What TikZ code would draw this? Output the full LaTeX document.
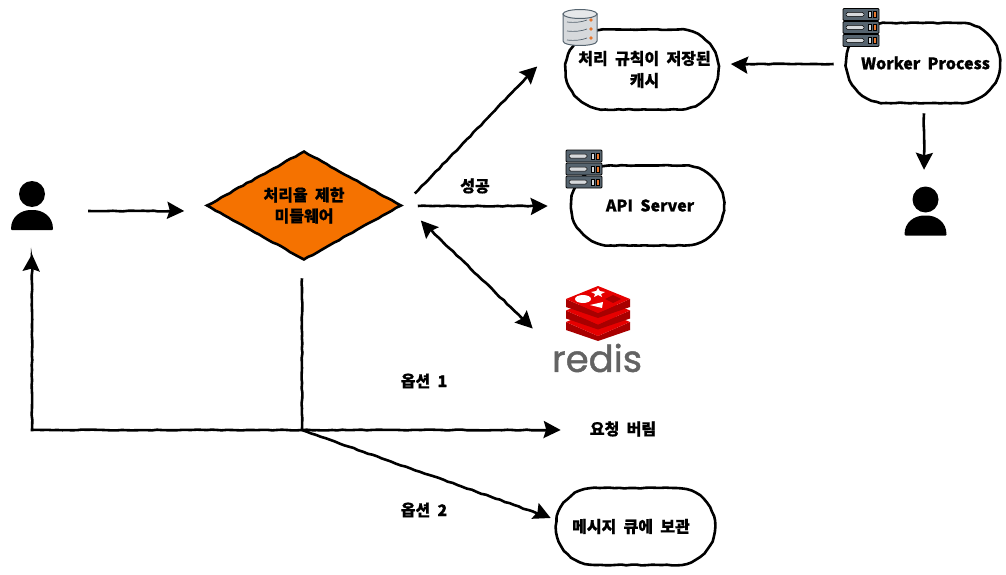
\documentclass[tikz,border=0pt]{standalone}
\usepackage{fontspec}
\setmainfont{Noto Sans CJK KR}[WordSpace=2,BoldFeatures={FakeBold=0.7}]
\newfontfamily\redisfont{Poppins}[FakeBold=1.2]
\usetikzlibrary{arrows.meta,shapes.geometric,shapes.misc,decorations.pathmorphing}
\definecolor{limiterfill}{HTML}{F57200}
\definecolor{serverfill}{HTML}{56646F}
\definecolor{dbfill}{HTML}{D6D9DC}
\definecolor{dotorange}{HTML}{E8772E}
\definecolor{redistop}{HTML}{E60000}
\definecolor{redisside}{HTML}{A80000}
\definecolor{redisgray}{HTML}{636363}
\tikzset{
  rough/.style={decorate,decoration={random steps,segment length=5pt,amplitude=0.45pt}},
  link/.style={draw,line width=2.6pt,rough,-{Stealth[length=17pt,width=17pt,inset=2.5pt]}},
  plainlink/.style={draw,line width=2.6pt,rough},
  roundbox/.style={rounded rectangle,draw,line width=2.6pt,rough,inner sep=0pt,
    minimum width=#1,minimum height=80pt,align=center,font=\bfseries\fontsize{16}{22}\selectfont},
  label/.style={inner sep=0pt,align=center,font=\bfseries\fontsize{16}{22}\selectfont},
  usericon/.style={inner sep=0pt,minimum width=42pt,minimum height=49pt},
  pics/person/.style={code={
    \fill (0,-11.5) circle (13pt);
    \fill[rounded corners=1pt] (-21,24.5) .. controls (-21,11) and (-11,4.5) .. (0,4.5)
      .. controls (11,4.5) and (21,11) .. (21,24.5) -- cycle;
  }},
  pics/serverstack/.style={code={
    \foreach \y in {-13,0,13} {
      \draw[fill=serverfill,line width=0.8pt,rounded corners=1pt] (-18,\y-6) rectangle (18,\y+6);
      \draw[fill=dbfill,line width=0.5pt,rounded corners=1.5pt] (-15,\y-2) rectangle (3,\y+2);
      \draw[fill=dbfill,line width=0.5pt] (7,\y-3) rectangle (10,\y+3);
      \draw[fill=dotorange,line width=0.5pt] (12,\y-3) rectangle (15,\y+3);
    }
  }},
  pics/dbstack/.style={code={
    \draw[fill=dbfill,draw=serverfill,line width=1pt] (-17,-13) -- (-17,14)
      .. controls (-17,20) and (17,20) .. (17,14) -- (17,-13) -- cycle;
    \draw[fill=dbfill!60!white,draw=serverfill,line width=1pt] (0,-13) ellipse (17pt and 4.5pt);
    \foreach \y in {-7,2,11} {
      \draw[serverfill,line width=0.7pt] (-13,\y+2) .. controls (-5,\y+3) and (2,\y+2) .. (7,\y);
      \fill[dotorange] (11,\y) circle (1.8pt);
    }
  }},
  pics/redisstack/.style={code={
    \foreach \d in {23,11.5,0} {
      \fill[redisside] (-32,\d-14) -- (0,\d) -- (32,\d-14) -- (32,\d-6) -- (0,\d+5) -- (-32,\d-6) -- cycle;
      \fill[redistop] (0,\d-27) -- (32,\d-14) -- (0,\d) -- (-32,\d-14) -- cycle;
    }
    \fill[white] (-15,-14) ellipse (8pt and 4pt);
    \fill[redisside] (15,-14) -- (23,-14) -- (15,-10) -- (7,-14) -- (15,-18) -- (23,-14) -- cycle;
    \fill[white] (-8,-8) -- (5,-11) -- (4,-5) -- cycle;
    \fill[white] (0,-25) -- (1.8,-22) -- (7,-21) -- (3,-19) -- (4,-16) -- (0,-18)
      -- (-4,-16) -- (-3,-19) -- (-7,-21) -- (-1.8,-22) -- cycle;
  }},
}
\pgfmathsetseed{7}
\begin{document}
\begin{tikzpicture}[x=1pt,y=-1pt]
  \useasboundingbox (0,0) rectangle (1006,575);
  % users
  \node[usericon] (user) at (32,205.5) {};
  \node[usericon] (client) at (925.5,211) {};
  \pic at (user) {person};
  \pic at (client) {person};
  % middleware and boxes
  \node[diamond,draw,line width=2.6pt,rough,fill=limiterfill,inner sep=0pt,aspect=1.79,
    minimum width=195pt,minimum height=109pt,align=center,
    font=\bfseries\fontsize{16}{21}\selectfont] (limiter) at (304,205.5) {처리율 제한\\미들웨어};
  \node[roundbox=153pt] (cache) at (642,69.5) {\hspace*{5pt}처리 규칙이 저장된\\\hspace*{5pt}캐시};
  \node[roundbox=154pt] (worker) at (923,63) {\hspace*{5pt}Worker Process};
  \node[roundbox=153pt] (api) at (647.5,205.5) {\hspace*{5pt}API Server};
  \node[roundbox=159pt,minimum height=77pt] (queue) at (635.5,526.5) {\hspace*{-9pt}메시지 큐에 보관};
  % labels
  \node[label] (okay) at (475,186) {성공};
  \node[label] (optone) at (424,381) {옵션 1};
  \node[label] (opttwo) at (424,510) {옵션 2};
  \node[label] (drop) at (623,429) {요청 버림};
  % icons
  \pic at (580,27) {dbstack};
  \pic at (861,27.5) {serverstack};
  \pic at (584,169) {serverstack};
  \pic at (598,313) {redisstack};
  \node[inner sep=0pt,text=redisgray,font=\redisfont\fontsize{37}{37}\selectfont] (redis) at (597,358) {redis};
  \coordinate (junction) at (302,430);
  % connectors
  \begin{scope}
    \draw[link] ([shift={(35,5.5)}]user.east) -- ([shift={(-21,5.5)}]limiter.west);
    \draw[link] ([shift={(12,-12)}]limiter.east) -- ([shift={(-27,-3)}]cache.west);
    \draw[link] ([shift={(15,0.5)}]limiter.east) -- ([shift={(-22,0.5)}]api.west);
    \draw[line width=2.6pt,rough,{Stealth[length=17pt,width=17pt,inset=2.5pt]}-{Stealth[length=17pt,width=17pt,inset=2.5pt]}]
      ([shift={(18,15)}]limiter.east) -- ([shift={(-19,-15)}]redis.north west);
    \draw[link] ([shift={(-11,1)}]worker.west) -- ([shift={(11,-5.5)}]cache.east);
    \draw[link] ([shift={(1,9)}]worker.south) -- ([shift={(-1.5,-16.5)}]client.north);
    \draw[plainlink] ([shift={(-2,17)}]limiter.south) -- (junction);
    \draw[link] (junction) -| ([shift={(0,24)}]user.south);
    \draw[link] (junction) -- ([shift={(-29,1)}]drop.west);
    \draw[link] (junction) -- ([shift={(-4,-8.5)}]queue.west);
  \end{scope}
\end{tikzpicture}
\end{document}
